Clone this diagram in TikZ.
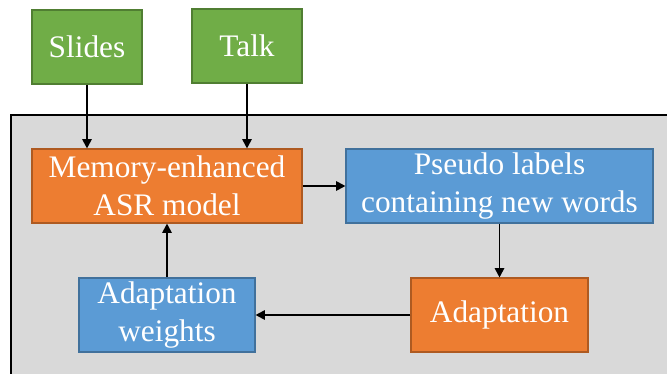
\documentclass[tikz,border=0pt]{standalone}
\usepackage{fontspec}
\newfontfamily\timesfont{Liberation Serif}
\usetikzlibrary{arrows.meta}

\definecolor{slidegreen}{HTML}{70AD47}
\definecolor{slidegreendark}{HTML}{507E32}
\definecolor{asrorange}{HTML}{ED7D31}
\definecolor{asrorangedark}{HTML}{AE5A21}
\definecolor{labelblue}{HTML}{5B9BD5}
\definecolor{labelbluedark}{HTML}{41719C}
\definecolor{panelgray}{HTML}{D9D9D9}

\begin{document}
\begin{tikzpicture}[
        x=0.75pt, y=-0.75pt,
        block/.style={rectangle, thick, minimum height=55.5pt, inner sep=0pt,
            text=white, align=center, font=\timesfont\fontsize{23.5}{28.5}\selectfont},
        input/.style={block, fill=slidegreen, draw=slidegreendark, minimum width=82.5pt},
        model/.style={block, fill=asrorange, draw=asrorangedark},
        data/.style={block, fill=labelblue, draw=labelbluedark},
        ->, >={Triangle[length=7pt,width=7pt]}, line width=1.4pt
    ]

    \clip (0,0) rectangle (667,374);

    % Grey panel (runs off the right and bottom edge)
    \draw[-, fill=panelgray, line width=1.2pt] (11,115) rectangle (690,400);

    % Inputs
    \node[input] (S) at (87,47) {Slides};
    \node[input] (T) at (247,46) {Talk};

    % Adaptation loop
    \node[model, minimum width=202.5pt] (M) at (167,186) {Memory-enhanced\\ASR model};
    \node[data, minimum width=230.25pt] (P) at (499.5,186) {Pseudo labels\\containing new words};
    \node[model, minimum width=132.75pt] (A) at (499.5,315) {Adaptation};
    \node[data, minimum width=132pt] (W) at (167,315) {Adaptation\\weights};

    % Connections: inputs to model
    \foreach \i in {S,T}
        \draw (\i) -- (\i |- M.north);

    % Connections: around the loop
    \draw (M) -- (P);
    \draw (P) -- (A);
    \draw (A) -- (W);
    \draw (W) -- (M);

\end{tikzpicture}
\end{document}
